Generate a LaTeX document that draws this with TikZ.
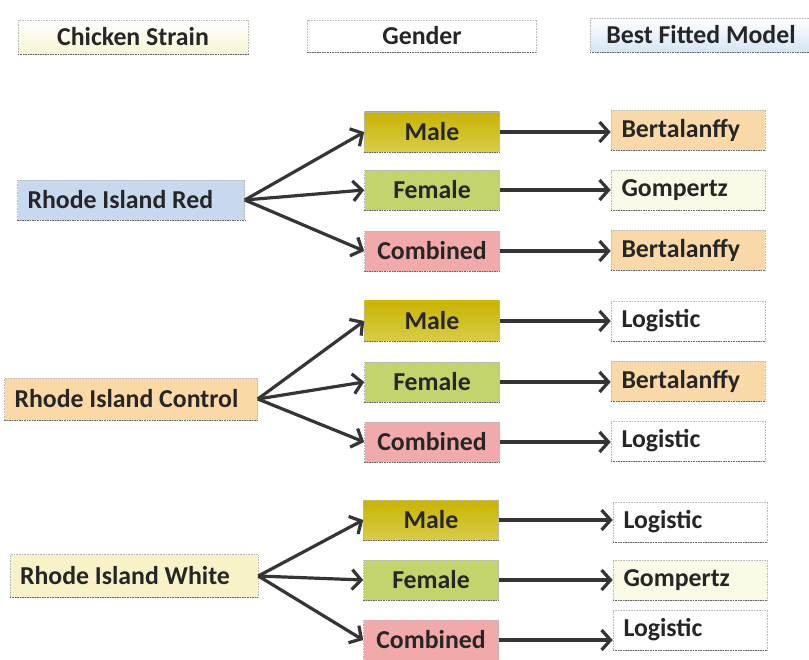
\documentclass[tikz,border=0pt]{standalone}
\usepackage{fontspec}
\setmainfont{Carlito}
\usetikzlibrary{arrows.meta}
\definecolor{hdryel}{HTML}{F8F4D2}
\definecolor{hdrblue}{HTML}{D6E5F6}
\definecolor{rirblue}{HTML}{C8D8EE}
\definecolor{ricpeach}{HTML}{FAD9A6}
\definecolor{riwyel}{HTML}{F8F2C8}
\definecolor{maletop}{HTML}{C9B400}
\definecolor{malebot}{HTML}{D8CC48}
\definecolor{femgreen}{HTML}{C3D46C}
\definecolor{combpink}{HTML}{F2A9A9}
\definecolor{bertpeach}{HTML}{FAD9A8}
\definecolor{gompcream}{HTML}{FBFAE6}
\definecolor{txtdark}{HTML}{262626}
\definecolor{arrdark}{HTML}{353535}
\tikzset{
  box/.style={draw=gray!55, densely dotted, line width=0.6pt, minimum height=40pt,
    font=\fontsize{25.8}{29}\selectfont\bfseries, text=txtdark, inner sep=0pt},
  hdrbox/.style={box, minimum height=34pt},
  strainbox/.style={box, align=flush left, inner xsep=10pt},
  genderbox/.style={box, minimum width=135pt},
  modelbox/.style={box, text width=133pt, align=flush left, inner xsep=10.5pt},
  arr/.style={draw=arrdark, solid, line width=3.2pt, -{Straight Barb[length=9pt,width=20pt]}},
  shadowline/.style={draw=gray!80!black, line width=1.2pt, dash pattern=on 1.5pt off 1pt}
}
\begin{document}
\begin{tikzpicture}[x=1pt,y=-1pt]
\useasboundingbox (0,0) rectangle (809,660);
% headers
\node[hdrbox, minimum width=230pt, top color=white, bottom color=hdryel] (h1) at (133,37) {Chicken Strain};
\node[hdrbox, minimum width=229pt, fill=white, minimum height=32pt] (h2) at (422,36) {Gender};
\node[hdrbox, minimum width=222pt, top color=white, bottom color=hdrblue] (h3) at (701,35) {Best Fitted Model};
% strains
\node[strainbox, text width=207pt, minimum height=40pt, fill=rirblue] (s1) at (131,200) {Rhode Island Red};
\node[strainbox, text width=233pt, minimum height=42pt, fill=ricpeach] (s2) at (131,399) {Rhode Island Control};
\node[strainbox, text width=228pt, minimum height=43pt, fill=riwyel] (s3) at (134,576) {Rhode Island White};
% genders
\foreach \r/\ym/\yf/\yc/\xc in {1/132/190/251/432, 2/321/382/442/432, 3/520/580/640/431}{
  \node[genderbox, top color=maletop, bottom color=malebot] (g\r1) at (\xc,\ym) {Male};
  \node[genderbox, fill=femgreen] (g\r2) at (\xc,\yf) {Female};
  \node[genderbox, fill=combpink] (g\r3) at (\xc,\yc) {Combined};
}
% models
\node[modelbox, fill=bertpeach] (m11) at (688,130) {Bertalanffy};
\node[modelbox, fill=gompcream] (m12) at (688,190) {Gompertz};
\node[modelbox, fill=bertpeach] (m13) at (688,250) {Bertalanffy};
\node[modelbox, fill=white] (m21) at (688,321) {Logistic};
\node[modelbox, fill=bertpeach] (m22) at (688,381) {Bertalanffy};
\node[modelbox, fill=white] (m23) at (688,441) {Logistic};
\node[modelbox, fill=white] (m31) at (690,522) {Logistic};
\node[modelbox, fill=gompcream] (m32) at (690,580) {Gompertz};
\node[modelbox, fill=white] (m33) at (690,630) {Logistic};
% bottom shadow lines
\foreach \n in {h1,h2,h3,s1,s2,s3,g11,g12,g13,g21,g22,g23,g31,g32,g33,m11,m12,m13,m21,m22,m23,m31,m32,m33}{
  \draw[shadowline] (\n.south west) -- (\n.south east);
}
% arrows
\foreach \r in {1,2,3}{
  \foreach \c in {1,2,3}{
    \draw[arr] (s\r.east) -- (g\r\c.west);
    \draw[arr] (g\r\c.east) -- (g\r\c.east -| m\r\c.west);
  }
}
\end{tikzpicture}
\end{document}
